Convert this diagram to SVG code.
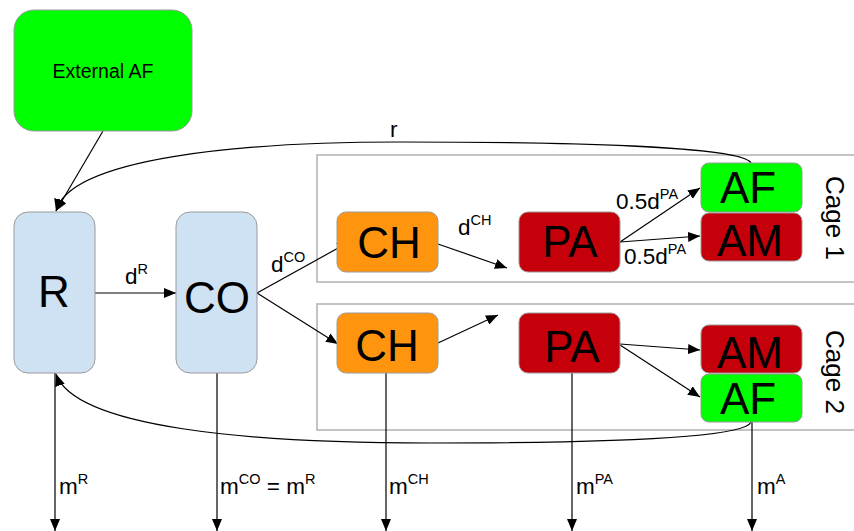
<svg xmlns="http://www.w3.org/2000/svg" width="854" height="531" viewBox="0 0 854 531">
<defs>
<marker id="ah" viewBox="0 0 12 10" refX="12" refY="5" markerWidth="12" markerHeight="10" markerUnits="userSpaceOnUse" orient="auto">
<path d="M0,0 L12,5 L0,10 z" fill="#000"/>
</marker>
<style>
text{font-family:"Liberation Sans",Arial,sans-serif;fill:#000}
.nd{stroke:#9a9a9a;stroke-width:1}
.big{font-size:44px;text-anchor:middle}
.lb{font-size:22.5px}
.sup{font-size:14.5px}
.cage{fill:none;stroke:#b0b0b0;stroke-width:1.5}
.cn{fill:none;stroke:#000;stroke-width:1.2;marker-end:url(#ah)}
</style>
</defs>
<rect width="854" height="531" fill="#fff"/>

<g id="cages">
<rect class="cage" x="317" y="155" width="545" height="127"/>
<rect class="cage" x="317" y="304" width="545" height="126"/>
<text transform="translate(826,218) rotate(90)" text-anchor="middle" style="font-size:26px">Cage 1</text>
<text transform="translate(826,372) rotate(90)" text-anchor="middle" style="font-size:26px">Cage 2</text>
</g>

<g id="connectors">
<path class="cn" d="M103,131 L56,211"/>
<path class="cn" d="M751,163 C742,146 560,142 400,142 C240,142 70,158 56,211"/>
<path class="cn" d="M751,422 C745,438 600,443 430,443 C250,443 75,428 56,374"/>
<path class="cn" d="M95,293 L176,293"/>
<path class="cn" d="M257,293 L349,242"/>
<path class="cn" d="M257,293 L338,344"/>
<path class="cn" d="M438,244 L507,268"/>
<path class="cn" d="M438,343 L498,315"/>
<path class="cn" d="M620,242 L700,188"/>
<path class="cn" d="M620,242 L700,236"/>
<path class="cn" d="M620,344 L700,350"/>
<path class="cn" d="M620,345 L700,397"/>
<path class="cn" d="M55,373 L55,531"/>
<path class="cn" d="M217,373 L217,531"/>
<path class="cn" d="M386,373 L386,531"/>
<path class="cn" d="M572,373 L572,531"/>
<path class="cn" d="M752,422 L752,531"/>
<text class="lb" x="390" y="137">r</text>
<text class="lb" x="125" y="284">d<tspan class="sup" dy="-10">R</tspan></text>
<text class="lb" x="271" y="272">d<tspan class="sup" dy="-10">CO</tspan></text>
<text class="lb" x="458" y="235">d<tspan class="sup" dy="-10">CH</tspan></text>
<text class="lb" x="616" y="209">0.5d<tspan class="sup" dy="-10">PA</tspan></text>
<text class="lb" x="624" y="264">0.5d<tspan class="sup" dy="-10">PA</tspan></text>
<text class="lb" x="59" y="494">m<tspan class="sup" dy="-10">R</tspan></text>
<text class="lb" x="220" y="494">m<tspan class="sup" dy="-10">CO</tspan><tspan dy="10"> = m</tspan><tspan class="sup" dy="-10">R</tspan></text>
<text class="lb" x="389" y="494">m<tspan class="sup" dy="-10">CH</tspan></text>
<text class="lb" x="576" y="494">m<tspan class="sup" dy="-10">PA</tspan></text>
<text class="lb" x="757" y="494">m<tspan class="sup" dy="-10">A</tspan></text>
</g>

<g id="extaf">
<rect class="nd" x="14" y="10" width="178" height="121" rx="20" fill="#00ff00"/>
<text x="103" y="78" text-anchor="middle" style="font-size:19.5px">External AF</text>
</g>
<g id="R">
<rect class="nd" x="14" y="212" width="81" height="161" rx="14" fill="#cfe2f3"/>
<text class="big" x="54" y="307">R</text>
</g>
<g id="CO">
<rect class="nd" x="176" y="212" width="81" height="161" rx="14" fill="#cfe2f3"/>
<text class="big" x="217" y="313">CO</text>
</g>
<g id="CH1">
<rect class="nd" x="337" y="212" width="101" height="60" rx="9" fill="#ff950e"/>
<text class="big" x="389" y="258">CH</text>
</g>
<g id="CH2">
<rect class="nd" x="337" y="313" width="101" height="60" rx="9" fill="#ff950e"/>
<text class="big" x="387" y="361">CH</text>
</g>
<g id="PA1">
<rect class="nd" x="519" y="212" width="101" height="60" rx="9" fill="#c5000b"/>
<text class="big" x="570" y="257">PA</text>
</g>
<g id="PA2">
<rect class="nd" x="519" y="313" width="101" height="60" rx="9" fill="#c5000b"/>
<text class="big" x="572" y="362">PA</text>
</g>
<g id="AF1">
<rect class="nd" x="701" y="163" width="101" height="49" rx="8" fill="#00ff00"/>
<text class="big" x="748" y="203">AF</text>
</g>
<g id="AM1">
<rect class="nd" x="701" y="213" width="101" height="48" rx="8" fill="#c5000b"/>
<text class="big" x="750" y="256">AM</text>
</g>
<g id="AM2">
<rect class="nd" x="701" y="325" width="101" height="48" rx="8" fill="#c5000b"/>
<text class="big" x="750" y="368">AM</text>
</g>
<g id="AF2">
<rect class="nd" x="701" y="374" width="101" height="48" rx="8" fill="#00ff00"/>
<text class="big" x="748" y="414">AF</text>
</g>
</svg>
